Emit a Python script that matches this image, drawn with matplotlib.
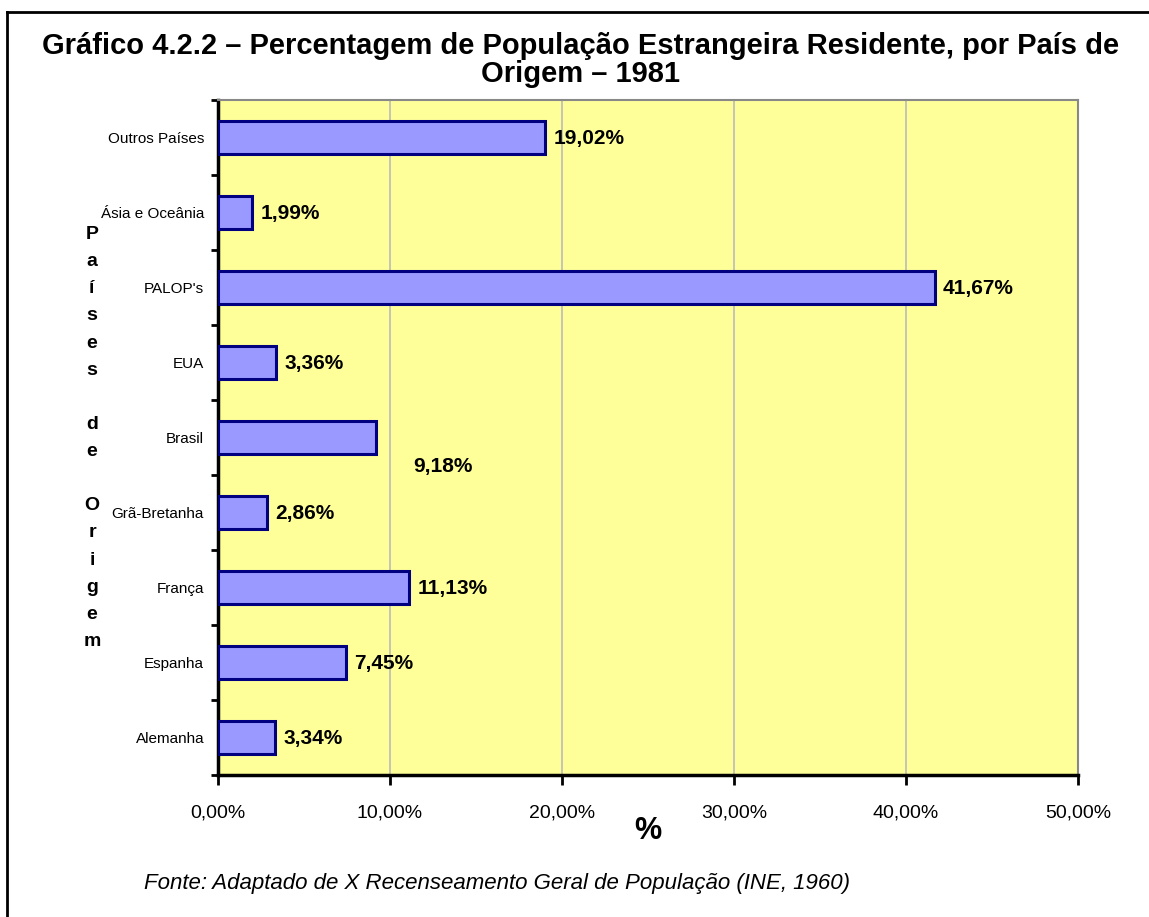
import numpy as np
import matplotlib
matplotlib.use("Agg")
import matplotlib.pyplot as plt
from matplotlib.lines import Line2D

# data (bottom to top)
countries = ["Alemanha", "Espanha", "França", "Grã-Bretanha", "Brasil",
             "EUA", "PALOP's", "Ásia e Oceânia", "Outros Países"]
values = [3.34, 7.45, 11.13, 2.86, 9.18, 3.36, 41.67, 1.99, 19.02]
xticks = [0, 10, 20, 30, 40, 50]

title = "Gráfico 4.2.2 – Percentagem de População Estrangeira Residente, por País de\nOrigem – 1981"
ylabel_letters = "P\na\ní\ns\ne\ns\n \nd\ne\n \nO\nr\ni\ng\ne\nm"
source = "Fonte: Adaptado de X Recenseamento Geral de População (INE, 1960)"

plt.rcParams["font.family"] = ["Liberation Sans", "DejaVu Sans"]

fig = plt.figure(figsize=(11.49, 9.17), dpi=100)
ax = fig.add_axes([218 / 1149, 1 - 775 / 917, 860 / 1149, 675 / 917])
ax.set_facecolor("#FFFF99")

y = np.arange(len(countries))
ax.barh(y, values, height=0.43, color="#9999FF", edgecolor="#000080",
        linewidth=2.2, zorder=3)

ax.set_xlim(0, 50)
ax.set_ylim(-0.5, len(countries) - 0.5)

# grid
ax.set_xticks(xticks)
ax.set_xticklabels([f"{t:.2f}%".replace(".", ",") for t in xticks], fontsize=14)
ax.xaxis.grid(True, color="#BBBBBB", linewidth=1.2, zorder=0)
ax.tick_params(axis="x", direction="out", length=7, width=2, pad=14)

# y ticks at category boundaries, labels at centers
ax.set_yticks(np.arange(-0.5, len(countries), 1.0))
ax.set_yticklabels([])
ax.set_yticks(y, minor=True)
ax.set_yticklabels(countries, minor=True, fontsize=11)
ax.tick_params(axis="y", which="major", direction="out", length=5, width=2)
ax.tick_params(axis="y", which="minor", length=0, pad=10)

for s in ["left", "bottom"]:
    ax.spines[s].set_linewidth(2.5)
    ax.spines[s].set_color("black")
for s in ["top", "right"]:
    ax.spines[s].set_linewidth(1.5)
    ax.spines[s].set_color("#888888")

# value labels
for yi, v in zip(y, values):
    lbl = f"{v:.2f}%".replace(".", ",")
    if countries[yi] == "Brasil":
        ax.annotate(lbl, (v, yi), xytext=(48, -21), textcoords="offset points",
                    ha="center", va="center", fontsize=15, fontweight="bold")
    else:
        ax.annotate(lbl, (v, yi), xytext=(6, -1), textcoords="offset points",
                    ha="left", va="center", fontsize=15, fontweight="bold")

ax.set_xlabel("%", fontsize=22, fontweight="bold", labelpad=-4)

# stacked y label
fig.text(92 / 1149, 1 - 438 / 917, ylabel_letters,
         ha="center", va="center", fontsize=14, fontweight="bold", linespacing=1.78)

fig.text(0.505, 1 - 60 / 917, title, ha="center", va="center", fontsize=21,
         fontweight="bold", linespacing=0.98)
fig.text(497 / 1149, 1 - 883 / 917, source, ha="center", va="center",
         fontsize=16, style="italic")

# outer frame (top and left edges)
fig.add_artist(Line2D([7 / 1149, 1], [1 - 12 / 917, 1 - 12 / 917],
                      transform=fig.transFigure, color="black", linewidth=2))
fig.add_artist(Line2D([7 / 1149, 7 / 1149], [0, 1 - 12 / 917],
                      transform=fig.transFigure, color="black", linewidth=2))

fig.savefig("out.png", dpi=100)
plt.close(fig)
